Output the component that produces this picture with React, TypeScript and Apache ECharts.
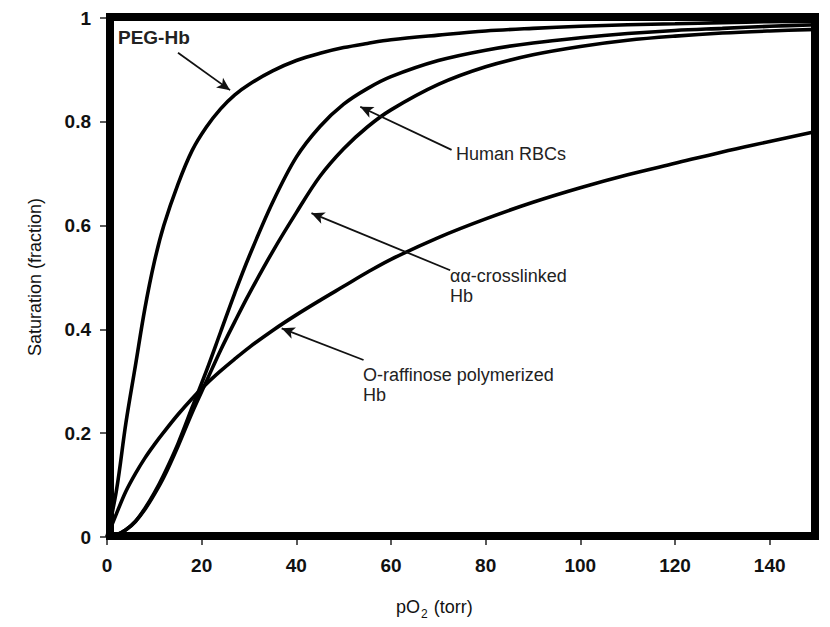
import React, { useEffect, useRef } from "react";
import * as echarts from "echarts";

// Oxygen partial pressure (torr) at which each curve is sampled
const pO2 = [0, 2, 4, 6, 8, 10, 12, 15, 18, 21, 24, 27, 30, 35, 40, 45, 50, 55, 60, 70, 80, 90, 100, 110, 120, 130, 140, 150];

// Fractional saturation for each preparation
const pegHb = [0, 0.09, 0.22, 0.33, 0.44, 0.53, 0.6, 0.68, 0.745, 0.79, 0.825, 0.852, 0.872, 0.898, 0.918, 0.932, 0.943, 0.951, 0.958, 0.967, 0.975, 0.98, 0.984, 0.987, 0.989, 0.991, 0.993, 0.994];
const humanRBCs = [0, 0.004, 0.014, 0.03, 0.055, 0.085, 0.12, 0.18, 0.25, 0.32, 0.395, 0.47, 0.54, 0.645, 0.732, 0.791, 0.834, 0.864, 0.887, 0.918, 0.938, 0.952, 0.962, 0.97, 0.976, 0.98, 0.984, 0.987];
const aaCrosslinked = [0, 0.004, 0.014, 0.03, 0.053, 0.082, 0.115, 0.175, 0.24, 0.3, 0.36, 0.415, 0.468, 0.55, 0.625, 0.695, 0.748, 0.79, 0.823, 0.872, 0.906, 0.929, 0.945, 0.957, 0.965, 0.971, 0.975, 0.978];
const oRaffinose = [0, 0.045, 0.088, 0.122, 0.152, 0.178, 0.202, 0.236, 0.267, 0.295, 0.32, 0.343, 0.365, 0.398, 0.428, 0.456, 0.483, 0.51, 0.535, 0.577, 0.613, 0.645, 0.673, 0.698, 0.72, 0.742, 0.762, 0.782];

// Axis ticks
const xTicks = [0, 20, 40, 60, 80, 100, 120, 140];

// Annotation arrows: [tail, head] in data coordinates
const pegArrow = [[15.0, 0.933], [26.0, 0.861]];
const humanArrow = [[72.8, 0.746], [53.5, 0.829]];
const aaArrow = [[72.5, 0.514], [43.2, 0.624]];
const oRaffArrow = [[54.2, 0.341], [36.9, 0.402]];

const FONT = "'Liberation Sans', Arial, Helvetica, sans-serif";

function pairs(ys: number[]) {
  return pO2.map((x, i) => [x, ys[i]]);
}

function arrow(a: number[][]) {
  return [{ coord: a[0] }, { coord: a[1] }];
}

export default function App() {
  const ref = useRef<HTMLDivElement>(null);

  useEffect(() => {
    if (!ref.current) return;
    const chart = echarts.init(ref.current, undefined, { renderer: "svg" });

    const curve = (name: string, ys: number[], extra: any = {}) => ({
      name,
      type: "line",
      data: pairs(ys),
      smooth: 0.35,
      showSymbol: false,
      lineStyle: { color: "#000", width: 3.6 },
      z: 3,
      ...extra,
    });

    const arrows = {
      silent: true,
      symbol: ["none", "arrow"],
      symbolSize: [9, 13],
      label: { show: false },
      lineStyle: { color: "#111", width: 1.8, type: "solid" },
      data: [arrow(pegArrow), arrow(humanArrow), arrow(aaArrow), arrow(oRaffArrow)],
    };

    const labelStyle = { fontFamily: FONT, fontSize: 18, fill: "#222" };

    chart.setOption({
      animation: false,
      backgroundColor: "#fff",
      grid: { left: 107, right: 13, top: 18, bottom: 90 },
      xAxis: {
        type: "value",
        min: 0,
        max: 150,
        interval: 20,
        axisLine: { show: false },
        splitLine: { show: false },
        axisTick: { show: true, length: 8, lineStyle: { color: "#222", width: 1.5 }, customValues: xTicks },
        axisLabel: {
          customValues: xTicks,
          margin: 19,
          color: "#111",
          fontSize: 19,
          fontWeight: "bold",
          fontFamily: FONT,
        },
      },
      yAxis: {
        type: "value",
        min: 0,
        max: 1,
        interval: 0.2,
        axisLine: { show: false },
        splitLine: { show: false },
        axisTick: { show: true, length: 7, lineStyle: { color: "#222", width: 1.5 } },
        axisLabel: {
          margin: 16,
          color: "#111",
          fontSize: 19,
          fontWeight: "bold",
          fontFamily: FONT,
        },
      },
      graphic: [
        {
          type: "rect",
          silent: true,
          z: 1,
          shape: { x: 110, y: 17, width: 705, height: 519 },
          style: { fill: "none", stroke: "#000", lineWidth: 8 },
        },
        {
          type: "text",
          x: 35,
          y: 277,
          rotation: Math.PI / 2,
          style: { ...labelStyle, fill: "#111", text: "Saturation (fraction)", textAlign: "center", textVerticalAlign: "middle" },
        },
        {
          type: "text",
          x: 396,
          y: 597,
          style: {
            text: "{a|pO}{s|2}{a| (torr)}",
            fontFamily: FONT,
            fill: "#111",
            rich: {
              a: { fontFamily: FONT, fontSize: 18, lineHeight: 20, color: "#111" },
              s: { fontFamily: FONT, fontSize: 12, lineHeight: 12, padding: [14, 1, 0, 1], color: "#111" },
            },
          },
        },
        {
          type: "text",
          x: 118,
          y: 28,
          style: { fontFamily: FONT, fontSize: 19, fontWeight: "bold", fill: "#222", text: "PEG-Hb" },
        },
        {
          type: "text",
          x: 456,
          y: 145,
          style: { ...labelStyle, text: "Human RBCs" },
        },
        {
          type: "text",
          x: 450,
          y: 266,
          style: { ...labelStyle, text: "αα-crosslinked\nHb", lineHeight: 20 },
        },
        {
          type: "text",
          x: 363,
          y: 365,
          style: { ...labelStyle, text: "O-raffinose polymerized\nHb", lineHeight: 20 },
        },
      ],
      series: [
        curve("PEG-Hb", pegHb, { markLine: arrows }),
        curve("Human RBCs", humanRBCs),
        curve("αα-crosslinked Hb", aaCrosslinked),
        curve("O-raffinose polymerized Hb", oRaffinose),
      ],
    });

    return () => chart.dispose();
  }, []);

  return <div ref={ref} style={{ width: 830, height: 627, margin: -8 }} />;
}
